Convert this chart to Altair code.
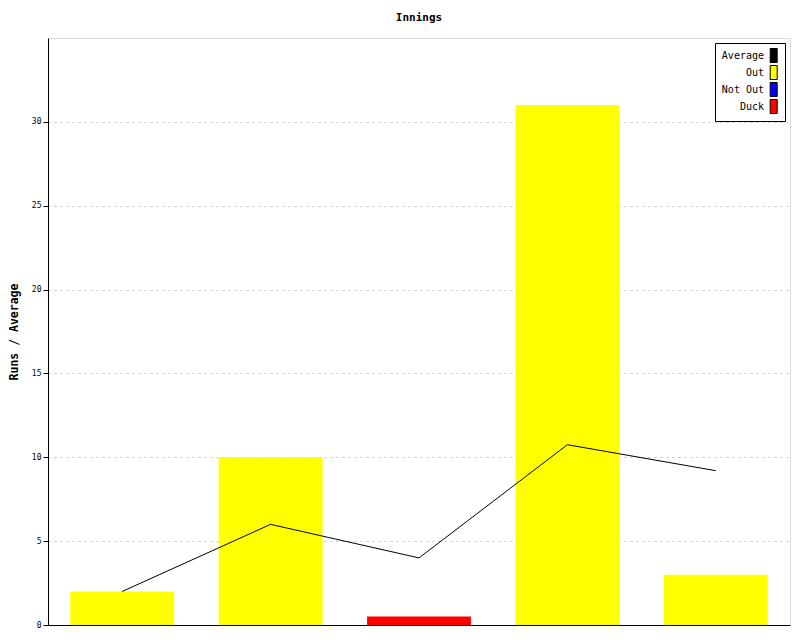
import altair as alt
import pandas as pd

innings = ["1", "2", "3", "4", "5"]
runs = [2, 10, 0.5, 31, 3]
outcome = ["Out", "Out", "Duck", "Out", "Out"]
average = [2, 6, 4, 10.75, 9.2]
legend_labels = ["Average", "Out", "Not Out", "Duck"]
legend_colors = ["#000000", "#ffff00", "#0000ff", "#ff0000"]
y_ticks = [0, 5, 10, 15, 20, 25, 30]

df = pd.DataFrame({"Innings": innings, "Runs": runs, "Outcome": outcome, "Average": average})

FONT = "DejaVu Sans Mono"

x_enc = alt.X("Innings:N", sort=innings,
              scale=alt.Scale(paddingInner=0.3, paddingOuter=0.15),
              axis=alt.Axis(labels=False, ticks=False, title=None, domainColor="black", grid=False))
y_scale = alt.Scale(domain=[0, 35], nice=False)

bars = alt.Chart(df).mark_bar().encode(
    x=x_enc,
    y=alt.Y("Runs:Q", scale=y_scale,
            axis=alt.Axis(values=y_ticks, title="Runs / Average", titleFont=FONT, titleFontSize=11.5,
                          titleFontWeight="bold", titlePadding=12, labelFont=FONT, labelFontSize=8,
                          labelPadding=2, tickSize=5, tickColor="black", domainColor="black",
                          labelColor="black", titleColor="black",
                          gridColor="#c0c0c0", gridDash=[2, 4], grid=True)),
    fill=alt.Fill("Outcome:N", scale=alt.Scale(domain=legend_labels, range=legend_colors),
                  legend=alt.Legend(title=None, orient="top-right", offset=5,
                                    labelAlign="right", labelOffset=29,
                                    symbolType="M6.1,-1H7.1V1H6.1Z", symbolSize=196,
                                    symbolStrokeColor="black", symbolStrokeWidth=1,
                                    labelFont=FONT, labelFontSize=10, labelColor="black",
                                    strokeColor="black", fillColor="white", padding=5,
                                    rowPadding=-2, symbolOpacity=1)),
)

line = alt.Chart(df).mark_line(color="black", strokeWidth=1).encode(
    x=x_enc,
    y=alt.Y("Average:Q", scale=y_scale),
)

chart = alt.layer(bars, line).properties(
    width=742, height=587,
    title=alt.TitleParams("Innings", font=FONT, fontSize=11, fontWeight="bold", offset=15, color="black"),
    autosize=alt.AutoSizeParams(type="none"),
    padding={"left": 40, "top": 30, "right": 2, "bottom": 7},
).configure_view(stroke="black", strokeWidth=1).configure(background="white")

chart.save("out.html", embed_options={"renderer": "svg", "actions": False})
